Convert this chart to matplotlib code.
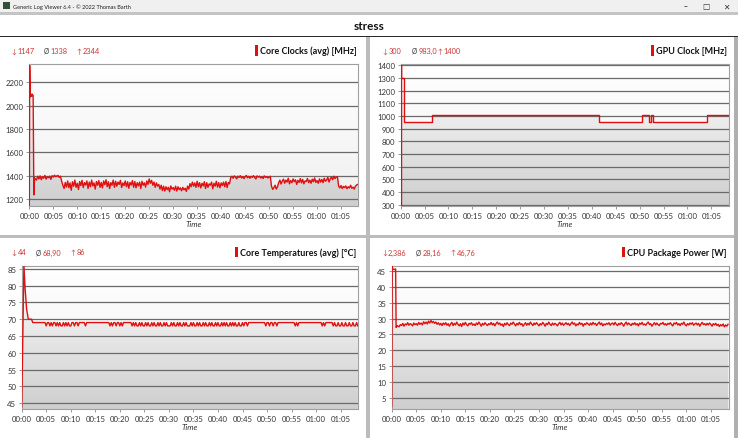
import matplotlib.pyplot as plt
import numpy as np
from matplotlib.patches import Rectangle

plt.rcParams['font.family'] = ['Lato', 'DejaVu Sans']

W, H = 738, 439
RED = '#e01010'
STAT_RED = '#cc3535'

# time in minutes; after the start-up phase the log has one sample every 0.25 min
sample_step = 0.25
t_end = 68.6
x_ticks = list(range(0, 66, 5))
x_labels = ['%02d:%02d' % (m // 60, m % 60) for m in x_ticks]

# Core Clocks (avg) [MHz]
core_t_start = [0.0, 0.08, 0.2, 0.35, 0.5, 0.65, 0.8, 0.95, 1.1]
core_v_start = [1147, 2344, 2075, 2100, 2080, 2098, 2085, 1235, 1380]
core_main_from = 1.5
core_main = [1362, 1395,
             1372, 1398, 1365, 1390, 1378, 1402, 1370, 1392, 1382, 1396, 1368, 1400,
             1388, 1404, 1392, 1398, 1402, 1385, 1396, 1352, 1318, 1290, 1342, 1302,
             1355, 1296, 1338, 1275, 1348, 1310, 1362, 1300, 1335, 1282, 1350, 1315,
             1360, 1298, 1340, 1320, 1355, 1290, 1345, 1305, 1362, 1312, 1338, 1285,
             1350, 1318, 1358, 1300, 1342, 1295, 1355, 1322, 1365, 1305, 1348, 1290,
             1340, 1318, 1362, 1300, 1352, 1310, 1345, 1325, 1360, 1298, 1338, 1315,
             1355, 1305, 1348, 1292, 1342, 1320, 1358, 1300, 1350, 1296, 1340, 1312,
             1345, 1290, 1352, 1318, 1338, 1302, 1355, 1325, 1372, 1335, 1360, 1318,
             1345, 1300, 1338, 1310, 1325, 1285, 1318, 1272, 1310, 1268, 1305, 1280,
             1300, 1262, 1312, 1285, 1298, 1275, 1310, 1268, 1305, 1280, 1296, 1270,
             1300, 1278, 1292, 1265, 1310, 1285, 1332, 1305, 1345, 1310, 1338, 1300,
             1352, 1305, 1340, 1295, 1335, 1312, 1348, 1290, 1340, 1300, 1330, 1318,
             1345, 1288, 1335, 1310, 1352, 1302, 1340, 1296, 1338, 1315, 1345, 1305,
             1350, 1298, 1342, 1330, 1385, 1395, 1378, 1398, 1388, 1372, 1396, 1385,
             1400, 1380, 1392, 1375, 1390, 1402, 1382, 1395, 1378, 1394, 1386, 1400,
             1384, 1372, 1398, 1388, 1395, 1380, 1390, 1376, 1398, 1385, 1392, 1380,
             1388, 1395, 1310, 1282, 1298, 1318, 1285, 1305, 1340, 1362, 1328, 1355,
             1370, 1335, 1362, 1345, 1378, 1330, 1358, 1340, 1372, 1348, 1365, 1325,
             1360, 1342, 1375, 1338, 1368, 1330, 1355, 1350, 1376, 1340, 1362, 1335,
             1370, 1348, 1380, 1342, 1358, 1335, 1372, 1345, 1368, 1340, 1378, 1352,
             1362, 1386, 1345, 1372, 1390, 1365, 1395, 1375, 1388, 1392, 1310, 1295,
             1315, 1290, 1308, 1298, 1312, 1288, 1305, 1295, 1318, 1292, 1302, 1285,
             1310, 1320, 1325]

# GPU Clock [MHz] (changes only, each value held until the next entry)
gpu_t = [0.0, 0.04, 0.15, 0.6, 6.5, 41.55, 50.6, 52.0, 52.3, 52.85, 64.1, 68.6]
gpu_v = [300, 1400, 1300, 955, 1005, 955, 1005, 955, 1005, 955, 1005, 1005]

# Core Temperatures (avg) [°C]
temp_t_start = [0.0, 0.45, 0.7, 1.0, 1.35, 2.0, 2.25]
temp_v_start = [44, 86, 79, 73, 70, 70, 69]
temp_main_from = 2.5
temp_main = [69, 69,
             69, 69, 69, 69, 69, 69, 69, 69, 68, 69, 69, 68, 69, 68, 69, 69,
             68, 69, 68, 69, 68, 68, 69, 68, 69, 68, 69, 68, 68, 69, 69, 68,
             69, 69, 68, 69, 69, 69, 69, 69, 68, 69, 69, 69, 69, 69, 69, 69,
             69, 69, 69, 69, 69, 69, 69, 69, 69, 69, 69, 69, 68, 69, 68, 69,
             69, 68, 69, 69, 68, 69, 68, 69, 69, 69, 69, 69, 69, 69, 68, 69,
             68, 69, 68, 68, 69, 68, 69, 68, 68, 69, 68, 69, 68, 68, 69, 68,
             69, 68, 68, 69, 68, 69, 68, 68, 69, 68, 69, 68, 68, 68, 69, 68,
             69, 68, 68, 69, 68, 69, 68, 68, 69, 68, 69, 68, 68, 68, 69, 68,
             69, 68, 68, 69, 68, 69, 68, 68, 69, 68, 69, 68, 68, 69, 68, 69,
             68, 68, 69, 68, 69, 68, 68, 69, 68, 69, 68, 69, 68, 68, 69, 68,
             69, 68, 69, 68, 68, 69, 68, 68, 69, 68, 69, 69, 68, 69, 69, 69,
             69, 69, 69, 69, 69, 69, 69, 69, 69, 69, 69, 68, 69, 69, 68, 69,
             69, 68, 69, 69, 68, 69, 69, 69, 69, 69, 69, 69, 69, 69, 69, 69,
             69, 69, 69, 68, 69, 68, 69, 69, 69, 69, 69, 69, 69, 69, 69, 69,
             69, 69, 69, 69, 69, 69, 69, 69, 69, 68, 69, 68, 69, 69, 69, 69,
             69, 69, 68, 69, 68, 68, 69, 68, 68, 69, 68, 68, 69, 68, 68, 69,
             68, 68, 69, 68, 68, 69, 68]

# CPU Package Power [W]
pow_t_start = [0.0, 0.1, 0.2, 0.5, 0.8, 0.9, 1.1]
pow_v_start = [2.386, 46.76, 45.6, 45.4, 45.6, 27.2, 27.8]
pow_main_from = 1.5
pow_main = [27.4, 28.1,
            27.8, 28.5, 27.6, 28.3, 28.0, 28.7, 27.9, 28.4, 28.2, 27.7, 28.6, 28.1,
            28.4, 27.9, 28.8, 28.2, 28.6, 28.0, 29.0, 28.4, 28.9, 28.3, 29.2, 28.6,
            29.4, 28.7, 29.1, 28.5, 28.9, 28.2, 28.7, 28.0, 28.5, 27.8, 28.6, 28.1,
            28.7, 27.9, 28.4, 27.6, 28.3, 28.8, 27.8, 28.5, 28.0, 28.9, 28.2, 27.7,
            28.4, 27.5, 28.6, 28.0, 28.8, 28.1, 27.7, 28.5, 28.2, 28.7, 27.9, 28.3,
            27.8, 28.6, 28.1, 28.9, 28.3, 27.6, 28.5, 28.0, 28.7, 28.2, 27.8, 28.4,
            28.1, 28.8, 28.0, 28.5, 27.7, 28.4, 28.9, 28.2, 28.6, 27.9, 28.3, 27.5,
            28.5, 28.0, 28.7, 28.1, 27.8, 28.6, 28.2, 28.9, 28.3, 27.7, 28.5, 28.0,
            28.8, 28.1, 28.4, 27.6, 28.2, 28.7, 27.9, 28.5, 28.0, 28.9, 28.3, 27.8,
            28.6, 28.1, 28.7, 28.2, 27.7, 28.4, 28.0, 28.8, 28.3, 27.6, 28.5, 28.1,
            28.9, 28.2, 27.8, 28.6, 28.0, 28.5, 28.2, 27.7, 28.4, 28.8, 28.0, 28.6,
            27.9, 28.3, 28.7, 28.1, 28.5, 27.8, 28.4, 28.9, 28.2, 28.6, 27.7, 28.3,
            28.0, 28.8, 28.2, 28.5, 27.6, 28.4, 28.1, 28.7, 28.3, 27.9, 28.6, 28.0,
            28.8, 28.2, 28.5, 27.8, 28.4, 28.9, 28.1, 28.6, 27.7, 28.3, 28.0, 28.5,
            28.2, 28.7, 27.9, 28.4, 28.6, 28.0, 28.8, 28.2, 27.8, 28.5, 28.1, 28.7,
            28.3, 27.6, 28.4, 28.9, 28.0, 28.6, 28.2, 27.8, 28.5, 28.1, 28.7, 28.0,
            28.4, 27.7, 28.6, 28.2, 28.8, 28.0, 28.3, 27.9, 28.5, 28.9, 28.1, 28.4,
            27.6, 28.2, 28.7, 28.0, 28.6, 28.1, 27.8, 28.5, 28.3, 28.8, 28.0, 28.4,
            27.9, 28.5, 28.2, 28.7, 28.1, 27.7, 28.6, 28.3, 28.8, 28.0, 28.4, 27.8,
            28.5, 28.2, 28.9, 28.1, 27.7, 28.4, 28.0, 28.6, 28.2, 28.7, 27.9, 28.3,
            28.6, 28.0, 28.5, 27.6, 28.3, 28.8, 28.1, 28.4, 27.9, 28.5, 28.0, 28.6,
            28.2, 27.6, 28.4, 28.0, 28.5, 27.8, 28.2, 27.5, 28.1, 27.7, 28.3, 27.4,
            28.0, 27.6, 28.2]


def series(t_start, v_start, main_from, main):
    t_main = main_from + sample_step * np.arange(len(main))
    return np.concatenate([t_start, t_main]), np.concatenate([v_start, main])


def fig_box(l, t, r, b, color, z=0):
    fig.add_artist(Rectangle((l / W, 1 - b / H), (r - l) / W, (b - t) / H,
                             transform=fig.transFigure, facecolor=color,
                             edgecolor='none', zorder=z))


def gray_img(top, bottom):
    shade = np.linspace(top, bottom, 200)
    return np.dstack([shade, shade, shade]).reshape(200, 1, 3)


def panel(box, t, v, ylim, yticks, step=None):
    l, top, r, b = box
    ax = fig.add_axes([l / W, 1 - b / H, (r - l) / W, (b - top) / H])
    ext = [0, t_end, ylim[0], ylim[1]]
    # faint background gradient, darker gradient under the curve
    ax.imshow(gray_img(1.0, 0.94), extent=ext, aspect='auto', zorder=0.1)
    im = ax.imshow(gray_img(1.0, 0.81), extent=ext, aspect='auto', zorder=0.2)
    fill = ax.fill_between(t, v, ylim[0], step=step, facecolor='none', edgecolor='none')
    im.set_clip_path(fill.get_paths()[0], transform=ax.transData)
    ax.plot(t, v, color=RED, lw=1.0, zorder=3,
            drawstyle='steps-post' if step else 'default')
    ax.set_xlim(0, t_end)
    ax.set_ylim(*ylim)
    ax.set_yticks(yticks)
    ax.set_xticks(x_ticks)
    ax.set_xticklabels(x_labels)
    ax.set_axisbelow(True)
    ax.yaxis.grid(True, color='#6a6a6a', lw=0.9)
    for s in ax.spines.values():
        s.set_color('#a0a0a0')
        s.set_linewidth(0.8)
    ax.tick_params(labelsize=5.6, labelcolor='#333333', color='#888888',
                   length=2.5, width=0.6, pad=1.5)
    ax.set_xlabel('Time', fontsize=5.8, style='italic', color='#333333', labelpad=1)
    return ax


fig = plt.figure(figsize=(W / 100, H / 100), dpi=100)
fig.patch.set_facecolor('white')

# window chrome
fig_box(0, 0, W, 13, '#f0f0f0')
fig_box(0, 13, W, 16, '#c4c4c4')
fig_box(0, 36.5, W, 38, '#2a2a2a')
fig_box(366, 38, 369.5, H, '#bcbcbc')
fig_box(0, 236, W, 239, '#bcbcbc')
fig_box(734, 38, W, H, '#b0b0b0')
fig_box(3, 3, 10, 10, '#35503a')
fig.text(13 / W, 1 - 7 / H, 'Generic Log Viewer 6.4 - © 2022 Thomas Barth',
         fontsize=4.1, va='center', color='#222222')
for xx, s in [(686, '–'), (706, '□'), (726, '✕')]:
    fig.text(xx / W, 1 - 7 / H, s, fontsize=5.5, ha='center', va='center',
             color='#333333', family='DejaVu Sans')
fig.text(369 / W, 1 - 27 / H, 'stress', fontsize=8.5, weight='bold',
         ha='center', va='center', color='#111111')

core_t, core_v = series(core_t_start, core_v_start, core_main_from, core_main)
temp_t, temp_v = series(temp_t_start, temp_v_start, temp_main_from, temp_main)
pow_t, pow_v = series(pow_t_start, pow_v_start, pow_main_from, pow_main)

panel((29.3, 65, 358.3, 207), core_t, core_v, (1140, 2357), range(1200, 2201, 200))
panel((400.7, 65, 728.5, 207), gpu_t, gpu_v, (290, 1410), range(300, 1401, 100), step='post')
panel((21.7, 266.7, 358.3, 410), temp_t, temp_v, (43.3, 85.9), range(45, 86, 5))
panel((391.7, 266.7, 728.5, 410), pow_t, pow_v, (1.6, 46.6), range(5, 46, 5))

# headers: min / avg / max on the left, title with red marker on the right
headers = [
    (51.5, [(11, 17, '↓', '1147'), (43.5, 50.5, 'Ø', '1338'), (76.5, 82.5, '↑', '2344')],
     357, 'Core Clocks (avg) [MHz]'),
    (51.5, [(382.5, 388.5, '↓', '300'), (411.5, 418.5, 'Ø', '983,0'), (437, 443, '↑', '1400')],
     726.5, 'GPU Clock [MHz]'),
    (253, [(11.5, 17.5, '↓', '44'), (35.5, 42.5, 'Ø', '68,90'), (70.5, 77, '↑', '86')],
     356.5, 'Core Temperatures (avg) [°C]'),
    (253, [(382, 388, '↓', '2,386'), (415.5, 422.5, 'Ø', '28,16'), (450.5, 456.5, '↑', '46,76')],
     726.5, 'CPU Package Power [W]'),
]
titles = []
for y, stats, xr, title in headers:
    for xs, xv, sym, val in stats:
        fig.text(xs / W, 1 - y / H, sym, fontsize=4.8, va='center',
                 color='#333333' if sym == 'Ø' else STAT_RED)
        fig.text(xv / W, 1 - y / H, val, fontsize=5.3, va='center', color=STAT_RED)
    titles.append((y, fig.text(xr / W, 1 - y / H, title, fontsize=6.5, weight='bold',
                               ha='right', va='center', color='#111111')))

fig.canvas.draw()
for y, tt in titles:
    x0 = tt.get_window_extent().x0 * W / (fig.get_figwidth() * fig.dpi)
    fig_box(x0 - 5, y - 5.5, x0 - 2, y + 5, RED, z=3)

fig.savefig('out.png', dpi=100)
